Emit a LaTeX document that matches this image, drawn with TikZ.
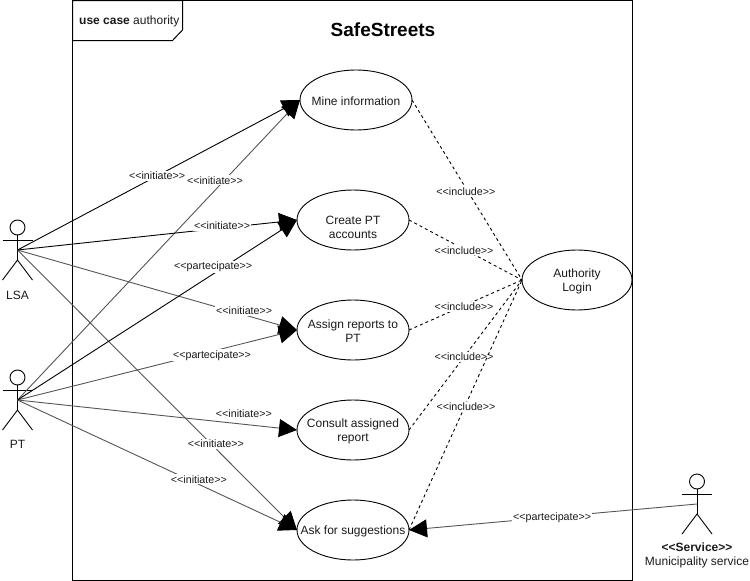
\documentclass[tikz,border=0pt]{standalone}
\usepackage{fontspec}
\setmainfont{Liberation Sans}
\usetikzlibrary{arrows.meta,shapes.geometric}
\definecolor{txt}{HTML}{1A1A1A}
\definecolor{lgray}{HTML}{555555}
\tikzset{
  usecase/.style={draw=black,line width=0.9pt,ellipse,minimum width=112pt,minimum height=60pt,inner sep=0pt,outer sep=0pt},
  casetext/.style={inner sep=0pt,align=center,yshift=-1pt,font=\fontsize{12}{14}\selectfont,text=txt},
  elabel/.style={fill=white,inner sep=1pt,yshift=-1pt,font=\fontsize{10.7}{12}\selectfont,text=txt},
  alabel/.style={inner sep=0pt,align=center,font=\fontsize{12}{14}\selectfont,text=txt},
  assoc/.style={line width=0.9pt,-{Triangle[length=18pt,width=18pt]}},
  assocg/.style={assoc,draw=lgray,-{Triangle[length=18pt,width=18pt,color=black]}},
  incl/.style={line width=0.9pt,dash pattern=on 3pt off 3pt},
  stick/.style={line width=0.9pt,draw=black}
}
\begin{document}
\begin{tikzpicture}[x=1pt,y=-1pt]
\useasboundingbox (0,0) rectangle (750,581);
% frame
\draw[line width=1pt] (72.5,0.5) rectangle (632.5,580.5);
\draw[line width=1pt] (72.5,0.5) -- (182.5,0.5) -- (182.5,30) -- (172.5,40.5) -- (72.5,40.5) -- cycle;
\node[inner sep=0pt,anchor=west,font=\fontsize{12}{14}\selectfont,text=txt] (frametitle) at (79,21.5) {\textbf{use case} authority};
\node[inner sep=0pt,font=\bfseries\fontsize{19}{22}\selectfont] (title) at (383,30) {SafeStreets};
% use cases
\node[usecase,label={[casetext]center:{Mine information}}] (mine) at (356,100) {};
\node[usecase,label={[casetext,yshift=-6pt]center:{Create PT\\accounts}}] (create) at (353,220) {};
\node[usecase,label={[casetext]center:{Assign reports to\\PT}}] (assign) at (353,330) {};
\node[usecase,label={[casetext]center:{Consult assigned\\report}}] (consult) at (353,430) {};
\node[usecase,label={[casetext]center:{Ask for suggestions}}] (ask) at (353,530) {};
\node[usecase,minimum width=110pt,label={[casetext]center:{Authority\\Login}}] (login) at (577,280) {};
% actors
\coordinate (lsa) at (17.5,250);
\coordinate (pt) at (17.5,400);
\coordinate (srv) at (697,504);
\foreach \a/\x/\y in {lsa/17.5/250,pt/17.5/400,srv/697/504}{
  \draw[stick] (\x,\y-22.5) circle (7.5pt);
  \draw[stick] (\x,\y-15) -- (\x,\y+10);
  \draw[stick] (\x-15,\y-10) -- (\x+15,\y-10);
  \draw[stick] (\x-15,\y+30) -- (\x,\y+10) -- (\x+15,\y+30);
}
\node[alabel] (lsalabel) at (17.5,295) {LSA};
\node[alabel] (ptlabel) at (17.5,444) {PT};
\node[alabel] (srvlabel) at (697,555) {\textbf{<{}<Service>{}>}\\Municipality service};
% gray associations first
\draw[assocg] (pt) -- node[elabel,pos=.699,yshift=11pt] (l2) {<{}<initiate>{}>} (mine.west);
\draw[assocg] (lsa) -- node[elabel,pos=.811,yshift=5pt] (l5) {<{}<initiate>{}>} (assign.west);
\draw[assocg] (pt) -- node[elabel,pos=.696,yshift=-3pt] (l6) {<{}<partecipate>{}>} (assign.west);
\draw[assocg] (pt) -- node[elabel,pos=.81,yshift=12pt] (l7) {<{}<initiate>{}>} (consult.west);
\draw[assocg] (lsa) -- node[elabel,pos=.71,yshift=6pt] (l8) {<{}<initiate>{}>} (ask.west);
\draw[assocg] (pt) -- node[elabel,pos=.649,yshift=6pt] (l9) {<{}<initiate>{}>} (ask.west);
% black associations
\draw[assoc] (lsa) -- node[elabel,pos=.494,yshift=1pt] (l1) {<{}<initiate>{}>} (mine.west);
\draw[assoc] (lsa) -- node[elabel,pos=.732,yshift=3pt] (l3) {<{}<initiate>{}>} (create.west);
\draw[assoc] (pt) -- node[elabel,pos=.7,yshift=8pt] (l4) {<{}<partecipate>{}>} (create.west);
\draw[assocg] (srv) -- node[elabel,pos=.503] (l10) {<{}<partecipate>{}>} (ask.east);
% includes
\draw[incl] (mine.east) -- node[elabel,pos=.49,yshift=-2pt] (i1) {<{}<include>{}>} (login.west);
\draw[incl] (create.east) -- node[elabel,pos=.487] (i2) {<{}<include>{}>} (login.west);
\draw[incl] (assign.east) -- node[elabel,pos=.487] (i3) {<{}<include>{}>} (login.west);
\draw[incl] (consult.east) -- node[elabel,pos=.487,yshift=1pt] (i4) {<{}<include>{}>} (login.west);
\draw[incl] (ask.east) -- node[elabel,pos=.504,yshift=-2pt] (i5) {<{}<include>{}>} (login.west);
\end{tikzpicture}
\end{document}
